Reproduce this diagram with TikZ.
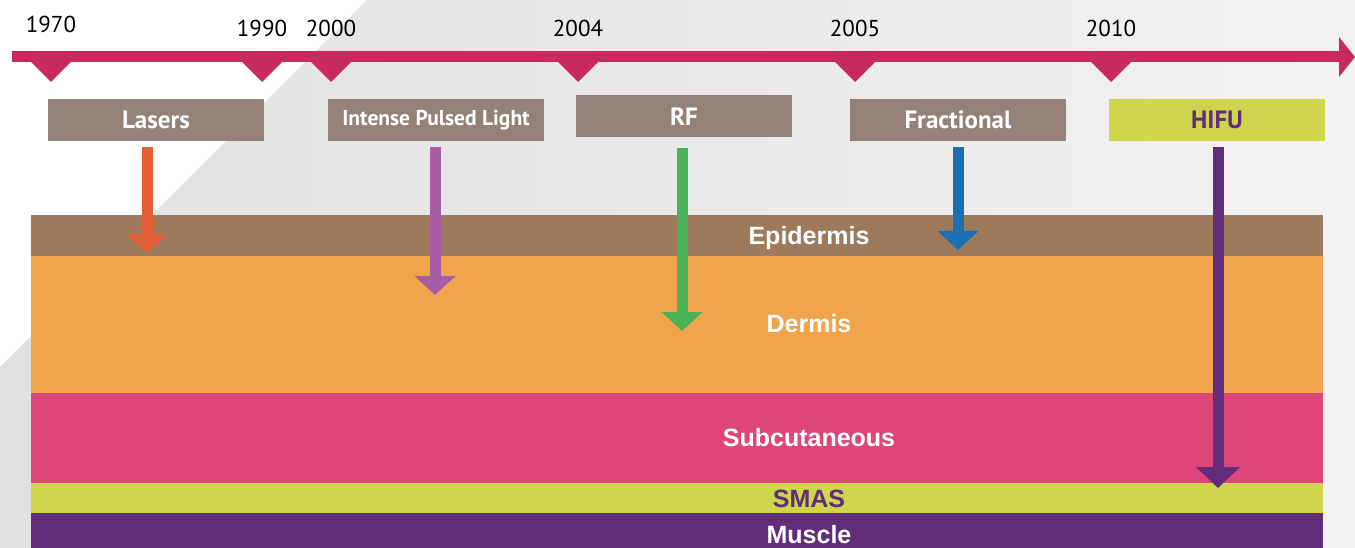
\documentclass[tikz,border=0pt]{standalone}
\usepackage{fontspec}
\setmainfont{Liberation Sans}
\newfontfamily\tlfont{PT Sans}
\usetikzlibrary{arrows.meta}

\definecolor{tlpink}{HTML}{C82A5F}
\definecolor{boxgrey}{HTML}{948279}
\definecolor{limegreen}{HTML}{CFD64E}
\definecolor{deeppurple}{HTML}{612D7A}
\definecolor{epicol}{HTML}{9D7A5C}
\definecolor{dermcol}{HTML}{F0A44B}
\definecolor{subccol}{HTML}{DD457B}
\definecolor{lasercol}{HTML}{E65E37}
\definecolor{iplcol}{HTML}{A65DA6}
\definecolor{rfcol}{HTML}{4BB257}
\definecolor{fraccol}{HTML}{1B70B4}

\tikzset{
  yearlbl/.style={font=\tlfont\fontsize{23}{23}\selectfont, inner sep=0pt},
  techbox/.style={fill=boxgrey, text=white, minimum width=216pt, minimum height=42pt,
    inner sep=0pt, font=\tlfont\bfseries\fontsize{25}{25}\selectfont},
  layertxt/.style={text=white, inner sep=0pt, font=\bfseries\fontsize{25}{25}\selectfont},
  deptharrow/.style={line width=11pt, -{Triangle[width=40pt,length=19pt]}}
}

\begin{document}
\begin{tikzpicture}[x=1pt,y=-1pt]
        \useasboundingbox (0,0) rectangle (1355,548);
        \fill[white] (0,0) rectangle (1355,548);
        \shade[left color=black!12, right color=black!5]
          (367,0) -- (1355,0) -- (1355,548) -- (0,548) -- (0,367) -- cycle;

        % skin layers
        \fill[epicol] (31,215) rectangle (1323,256);
        \fill[dermcol] (31,256) rectangle (1323,393);
        \fill[subccol] (31,393) rectangle (1323,483);
        \fill[limegreen] (31,483) rectangle (1323,513);
        \fill[deeppurple] (31,513) rectangle (1323,548);

        % timeline
        \draw[tlpink, line width=11pt, -{Triangle[width=39pt,length=16pt]}] (12,57) -- (1355,57);
        \foreach \yr/\xx/\ly in {1970/51/24, 1990/262/28, 2000/331/28, 2004/578/28, 2005/855/28, 2010/1111/28} {
          \fill[tlpink] (\xx-25,57) -- (\xx+25,57) -- (\xx,82) -- cycle;
          \node[yearlbl] (y\yr) at (\xx,\ly) {\yr};
        }

        \node[techbox] (lasers) at (156,120) {Lasers};
        \node[techbox, font=\tlfont\bfseries\fontsize{21.5}{21.5}\selectfont] (ipl) at (436,120) {Intense Pulsed Light};
        \node[techbox] (rf) at (684,116.5) {RF};
        \node[techbox] (fractional) at (958,120) {Fractional};
        \node[techbox, fill=limegreen, text=deeppurple] (hifu) at (1217,120) {HIFU};

        \coordinate (lasertip) at (147,253);
        \coordinate (ipltip) at (435,295);
        \coordinate (rftip) at (682,331);
        \coordinate (fractip) at (958,250);
        \coordinate (hifutip) at (1218,488);

        \draw[deptharrow, lasercol] ([yshift=-6pt]lasers.south -| lasertip) -- (lasertip);
        \draw[deptharrow, iplcol] ([yshift=-6pt]ipl.south -| ipltip) -- (ipltip);
        \draw[deptharrow, rfcol] ([yshift=-10pt]rf.south -| rftip) -- (rftip);
        \draw[deptharrow, fraccol] ([yshift=-6pt]fractional.south -| fractip) -- (fractip);
        \draw[deptharrow, deeppurple, -{Triangle[width=43pt,length=21pt]}] ([yshift=-6pt]hifu.south -| hifutip) -- (hifutip);

        \node[layertxt] (epidermis) at (809,238) {Epidermis};
        \node[layertxt] (dermis) at (809,324) {Dermis};
        \node[layertxt] (subcutaneous) at (809,438) {Subcutaneous};
        \node[layertxt, text=deeppurple] (smas) at (809,499) {SMAS};
        \node[layertxt] (muscle) at (809,535) {Muscle};
      \end{tikzpicture}
\end{document}
